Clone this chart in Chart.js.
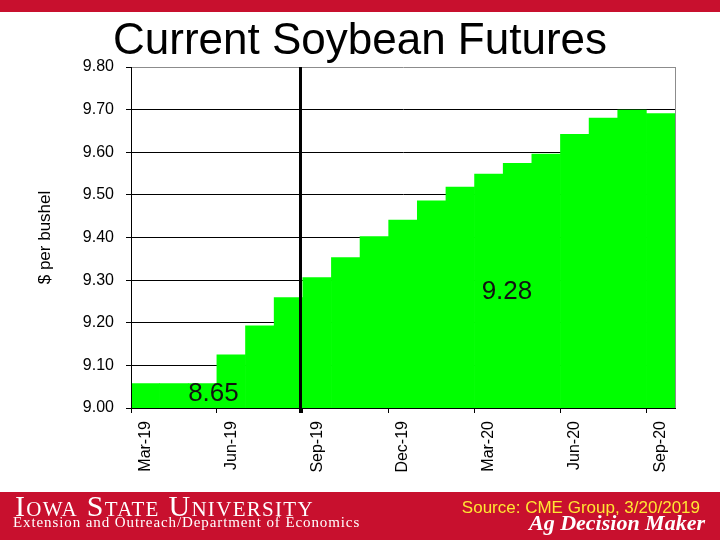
<!DOCTYPE html>
<html>
<head>
<meta charset="utf-8">
<script src="https://cdn.jsdelivr.net/npm/chart.js@4.4.1/dist/chart.umd.min.js"></script>
<style>
  html, body { margin: 0; padding: 0; background: #fff; }
  #page { position: relative; width: 720px; height: 540px; overflow: hidden; }
  #topBar { position: absolute; left: 0; top: 0; width: 720px; height: 12px; background: #c8102e; }
  #chartBox { position: absolute; left: 0; top: 0; width: 720px; height: 492px; }
  #banner { position: absolute; left: 0; top: 492px; width: 720px; height: 48px; background: #c8102e; color: #fff; }
  #banner div { position: absolute; white-space: nowrap; line-height: 1; }
  .isu { left: 15px; top: -1px; font: 30px "Liberation Serif", "Times New Roman", serif; font-variant: small-caps; letter-spacing: 1.3px; }
  .ext { left: 13px; top: 23px; font: 15px "Liberation Serif", "Times New Roman", serif; letter-spacing: 0.9px; }
  .src { right: 20px; top: 7px; font: 17px Arial, "Liberation Sans", sans-serif; color: #ffe633; }
  .adm { right: 15px; top: 20px; font: italic bold 22px "Liberation Serif", "Times New Roman", serif; }
</style>
</head>
<body>
<div id="page">
  <div id="chartBox"><canvas id="soyChart" width="720" height="492"></canvas></div>
  <div id="topBar"></div>
  <div id="banner">
    <div class="isu">Iowa State University</div>
    <div class="ext">Extension and Outreach/Department of Economics</div>
    <div class="src">Source: CME Group, 3/20/2019</div>
    <div class="adm">Ag Decision Maker</div>
  </div>
</div>
<script>
'use strict';

// ── Data ─────────────────────────────────────────────
const months = ['Mar-19', 'Apr-19', 'May-19', 'Jun-19', 'Jul-19', 'Aug-19', 'Sep-19', 'Oct-19',
                'Nov-19', 'Dec-19', 'Jan-20', 'Feb-20', 'Mar-20', 'Apr-20', 'May-20', 'Jun-20',
                'Jul-20', 'Aug-20', 'Sep-20'];
const prices = [9.057, 9.057, 9.057, 9.125, 9.193, 9.259, 9.306, 9.353,
                9.402, 9.441, 9.486, 9.518, 9.549, 9.574, 9.596, 9.642,
                9.680, 9.699, 9.691];
const yTicks = [9.00, 9.10, 9.20, 9.30, 9.40, 9.50, 9.60, 9.70, 9.80];

const chartTitle = 'Current Soybean Futures';

// text notes on the chart: [label, category position, price]
const notes = [
    ['8.65', 2.38, 9.034],
    ['9.28', 12.63, 9.272]
];
// old crop / new crop divider (between Aug-19 and Sep-19)
const dividerAt = 5.42;

const FONT = 'Arial, "Liberation Sans", sans-serif';

// ── Plugin: title, divider line, borders, notes ──────
const extras = {
    id: 'extras',
    afterDatasetsDraw(chart) {
        const { ctx, chartArea: a, scales: { x, y } } = chart;
        ctx.save();

        // right border (grey)
        ctx.strokeStyle = '#8c8c8c';
        ctx.lineWidth = 1;
        ctx.beginPath();
        ctx.moveTo(Math.round(a.right) + 0.5, a.top);
        ctx.lineTo(Math.round(a.right) + 0.5, a.bottom);
        ctx.stroke();

        // left + bottom axis lines on top of the bars
        ctx.strokeStyle = '#000';
        ctx.beginPath();
        ctx.moveTo(Math.round(a.left) + 0.5, a.top);
        ctx.lineTo(Math.round(a.left) + 0.5, a.bottom + 0.5);
        ctx.lineTo(a.right, a.bottom + 0.5);
        ctx.stroke();

        // divider
        const dx = x.getPixelForValue(dividerAt);
        ctx.lineWidth = 3;
        ctx.beginPath();
        ctx.moveTo(dx, a.top);
        ctx.lineTo(dx, a.bottom + 5);
        ctx.stroke();

        // notes
        ctx.fillStyle = '#111';
        ctx.font = '26px ' + FONT;
        ctx.textAlign = 'center';
        ctx.textBaseline = 'middle';
        notes.forEach(([txt, xv, yv]) => {
            ctx.fillText(txt, x.getPixelForValue(xv), y.getPixelForValue(yv));
        });

        // title, centred on the whole slide
        ctx.fillStyle = '#000';
        ctx.font = '44px ' + FONT;
        ctx.textBaseline = 'alphabetic';
        ctx.fillText(chartTitle, chart.width / 2, 54);
        ctx.restore();
    }
};

// ── Chart ────────────────────────────────────────────
new Chart(document.getElementById('soyChart'), {
    type: 'bar',
    data: {
        labels: months,
        datasets: [{
            label: 'Soybean futures',
            data: prices,
            backgroundColor: '#00ff00',
            borderWidth: 0,
            barPercentage: 1,
            categoryPercentage: 1
        }]
    },
    options: {
        responsive: false,
        animation: false,
        layout: { padding: { left: 0, right: 45, top: 67, bottom: 0 } },
        plugins: {
            legend: { display: false },
            tooltip: { enabled: false },
            title: { display: false }
        },
        scales: {
            x: {
                afterFit: (scale) => { scale.height = 84; },
                grid: {
                    drawOnChartArea: false,
                    drawTicks: true,
                    tickLength: 5,
                    color: (c) => (c.index % 3 === 0 ? '#000' : 'rgba(0,0,0,0)')
                },
                border: { display: true, color: '#000', width: 1 },
                ticks: {
                    autoSkip: false,
                    minRotation: 90,
                    maxRotation: 90,
                    padding: 8,
                    color: '#000',
                    font: { family: FONT, size: 16 },
                    callback: (val, i) => (i % 3 === 0 ? months[i] : '')
                }
            },
            y: {
                min: 9.0,
                max: 9.8,
                afterFit: (scale) => { scale.width = 131; },
                afterBuildTicks: (scale) => { scale.ticks = yTicks.map(v => ({ value: v })); },
                grid: {
                    color: (c) => (c.tick && c.tick.value > 9.79 ? '#8c8c8c' : '#000'),
                    tickColor: '#000',
                    tickLength: 5,
                    lineWidth: 1
                },
                border: { display: true, color: '#000', width: 1 },
                ticks: {
                    padding: 12,
                    color: '#000',
                    font: { family: FONT, size: 16 },
                    callback: (v) => Number(v).toFixed(2)
                },
                title: {
                    display: true,
                    text: '$ per bushel',
                    color: '#000',
                    font: { family: FONT, size: 17, lineHeight: 1.2 },
                    padding: { top: 34.8, bottom: 0 }
                }
            }
        }
    },
    plugins: [extras]
});
</script>
</body>
</html>
